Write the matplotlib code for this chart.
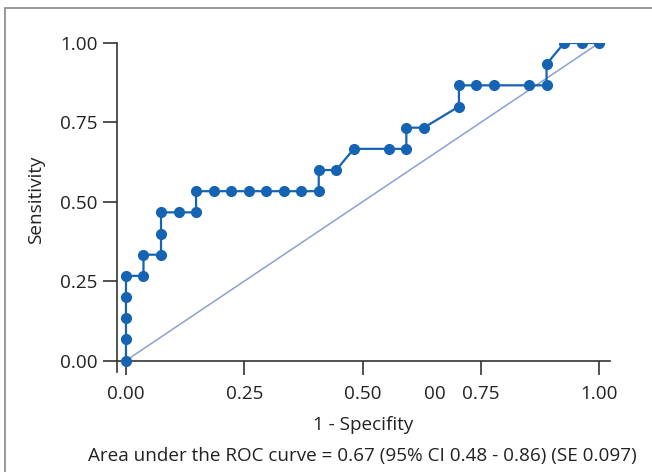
import numpy as np
import matplotlib.pyplot as plt
from matplotlib.patches import Rectangle

# ROC points (1 - specificity, sensitivity)
fpr = [0, 0, 0, 0, 0, 1/27, 1/27, 2/27, 2/27, 2/27, 3/27, 4/27, 4/27,
       5/27, 6/27, 7/27, 8/27, 9/27, 10/27, 11/27, 11/27, 12/27, 13/27,
       15/27, 16/27, 16/27, 17/27, 19/27, 19/27, 20/27, 21/27, 23/27,
       24/27, 24/27, 25/27, 26/27, 1]
tpr = [0, 1/15, 2/15, 3/15, 4/15, 4/15, 5/15, 5/15, 6/15, 7/15, 7/15,
       7/15, 8/15, 8/15, 8/15, 8/15, 8/15, 8/15, 8/15, 8/15, 9/15, 9/15,
       10/15, 10/15, 10/15, 11/15, 11/15, 12/15, 13/15, 13/15, 13/15,
       13/15, 13/15, 14/15, 1, 1, 1]

ticks = [0, 0.25, 0.5, 0.75, 1.0]
tick_labels = ["0.00", "0.25", "0.50", "0.75", "1.00"]
stray_label = "00"      # leftover label that sits between 0.50 and 0.75
stray_x = 0.652
caption = "Area under the ROC curve = 0.67 (95% CI 0.48 - 0.86) (SE 0.097)"

fs = 13.6
txt = '#222222'
plt.rcParams['font.family'] = ['Open Sans', 'DejaVu Sans']

fig = plt.figure(figsize=(6.52, 4.72), dpi=100)
ax = fig.add_axes([0.1794, 0.2119, 0.7562, 0.697])

# diagonal reference
ax.plot([0, 1], [0, 1], color='#8aa0d6', linewidth=1.1, zorder=2)
# ROC curve
ax.plot(fpr, tpr, color='#1563b3', linewidth=1.6, marker='o',
        markersize=7, zorder=3)

ax.set_xlim(-0.019, 1.023)
ax.set_ylim(-0.036, 1.0)

for s in ['top', 'right']:
    ax.spines[s].set_visible(False)
ax.spines['bottom'].set_position(('data', 0))
for s in ['left', 'bottom']:
    ax.spines[s].set_color('#333333')
    ax.spines[s].set_linewidth(1.2)

ax.set_xticks(ticks)
ax.set_xticklabels(tick_labels)
ax.set_yticks(ticks)
ax.set_yticklabels(tick_labels)
ax.tick_params(axis='both', length=10, width=1.2, color='#333333',
               labelcolor=txt, labelsize=fs)
ax.tick_params(axis='x', pad=7.5)
ax.tick_params(axis='y', pad=4)

ax.text(stray_x, -0.12, stray_label, ha='center', va='baseline',
        fontsize=fs, color=txt)

fig.text(36/652, 1 - 200/472, "Sensitivity", rotation=90, ha='center',
         va='center', fontsize=fs, color=txt)
fig.text(363/652, 1 - 430/472, "1 - Specifity", ha='center', va='baseline',
         fontsize=fs, color=txt)
fig.text(362/652, 1 - 461/472, caption, ha='center', va='baseline',
         fontsize=fs, color=txt)

# outer frame (only left/top visible in the crop)
fig.patches.append(Rectangle((5/652, -0.1), 1.2, 1 - 8/472 + 0.1,
                             transform=fig.transFigure, fill=False,
                             edgecolor='#888888', linewidth=1.2))

fig.savefig("out.png", dpi=100)
